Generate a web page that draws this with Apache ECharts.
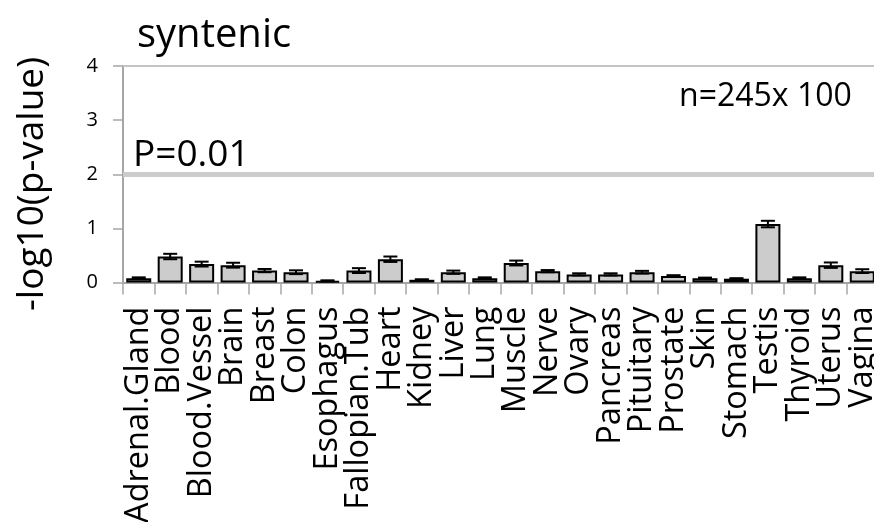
<!DOCTYPE html>
<html>
<head>
<meta charset="utf-8">
<script src="https://cdn.jsdelivr.net/npm/echarts@6/dist/echarts.min.js"></script>
<style>html,body{margin:0;padding:0;background:#fff;}#c{width:874px;height:522px;}</style>
</head>
<body>
<div id="c"></div>
<script>
const categories = ["Adrenal.Gland","Blood","Blood.Vessel","Brain","Breast","Colon","Esophagus","Fallopian.Tub","Heart","Kidney","Liver","Lung","Muscle","Nerve","Ovary","Pancreas","Pituitary","Prostate","Skin","Stomach","Testis","Thyroid","Uterus","Vagina"];
const means = [0.08,0.48,0.34,0.32,0.22,0.19,0.03,0.22,0.43,0.05,0.19,0.08,0.36,0.21,0.15,0.15,0.19,0.12,0.08,0.07,1.08,0.08,0.32,0.21];
const errs = [0.015,0.05,0.045,0.045,0.03,0.035,0.01,0.045,0.05,0.01,0.03,0.015,0.045,0.02,0.02,0.02,0.025,0.015,0.01,0.01,0.06,0.015,0.05,0.035];
const yTicks = [0,1,2,3,4];
const thresholdValue = 2;
const titleText = "syntenic";
const yAxisName = "-log10(p-value)";
const thresholdLabel = "P=0.01";
const nLabel = "n=245x 100";

const FONT = "'Open Sans', sans-serif";
const chart = echarts.init(document.getElementById('c'), null, {renderer: 'canvas'});
const errData = means.map((m, i) => [i, m - errs[i], m + errs[i]]);

chart.setOption({
  animation: false,
  backgroundColor: '#ffffff',
  grid: {left: 123, right: -4, top: 66, bottom: 239.5, containLabel: false, outerBoundsMode: 'none'},
  xAxis: {
    type: 'category',
    data: categories,
    axisLine: {show: true, lineStyle: {color: '#a6a6a6', width: 2}},
    axisTick: {show: true, alignWithLabel: false, length: 12, lineStyle: {color: '#a6a6a6', width: 1.5}},
    axisLabel: {rotate: 90, interval: 0, margin: 24, color: '#000', fontFamily: FONT, fontSize: 32.5}
  },
  yAxis: {
    type: 'value',
    min: yTicks[0], max: yTicks[yTicks.length - 1], interval: 1,
    axisLine: {show: true, lineStyle: {color: '#a6a6a6', width: 2}},
    axisTick: {show: true, length: 10, lineStyle: {color: '#a6a6a6', width: 1.5}},
    axisLabel: {margin: 25, color: '#000', fontFamily: FONT, fontSize: 20},
    splitLine: {show: false}
  },
  series: [
    {
      type: 'bar',
      data: means,
      barWidth: 25,
      itemStyle: {color: '#cccccc', borderColor: '#000000', borderWidth: 2},
      markLine: {
        silent: true, symbol: 'none', label: {show: false},
        data: [
          {yAxis: yTicks[yTicks.length - 1], lineStyle: {color: '#c4c4c4', width: 2, type: 'solid'}},
          {yAxis: thresholdValue, lineStyle: {color: '#cccccc', width: 5, type: 'solid'}}
        ]
      }
    },
    {
      type: 'custom',
      data: errData,
      z: 5,
      renderItem: function (params, api) {
        const i = api.value(0);
        const lo = api.coord([i, api.value(1)]);
        const hi = api.coord([i, api.value(2)]);
        const hw = 7;
        const st = {stroke: '#000', lineWidth: 2};
        return {type: 'group', children: [
          {type: 'line', shape: {x1: lo[0], y1: lo[1], x2: hi[0], y2: hi[1]}, style: st},
          {type: 'line', shape: {x1: hi[0]-hw, y1: hi[1], x2: hi[0]+hw, y2: hi[1]}, style: st},
          {type: 'line', shape: {x1: lo[0]-hw, y1: lo[1], x2: lo[0]+hw, y2: lo[1]}, style: st}
        ]};
      }
    }
  ],
  graphic: [
    {type: 'text', x: 137, y: 35.6, style: {text: titleText, font: '40px ' + FONT, fill: '#000', align: 'left', verticalAlign: 'middle'}},
    {type: 'text', x: 133, y: 155.5, style: {text: thresholdLabel, font: '37px ' + FONT, fill: '#000', align: 'left', verticalAlign: 'middle'}},
    {type: 'text', x: 679, y: 96.6, style: {text: nLabel, font: '32px ' + FONT, fill: '#000', align: 'left', verticalAlign: 'middle'}},
    {type: 'text', x: 32.5, y: 184, rotation: Math.PI / 2, style: {text: yAxisName, font: '37px ' + FONT, fill: '#000', align: 'center', verticalAlign: 'middle'}}
  ]
});
</script>
</body>
</html>
